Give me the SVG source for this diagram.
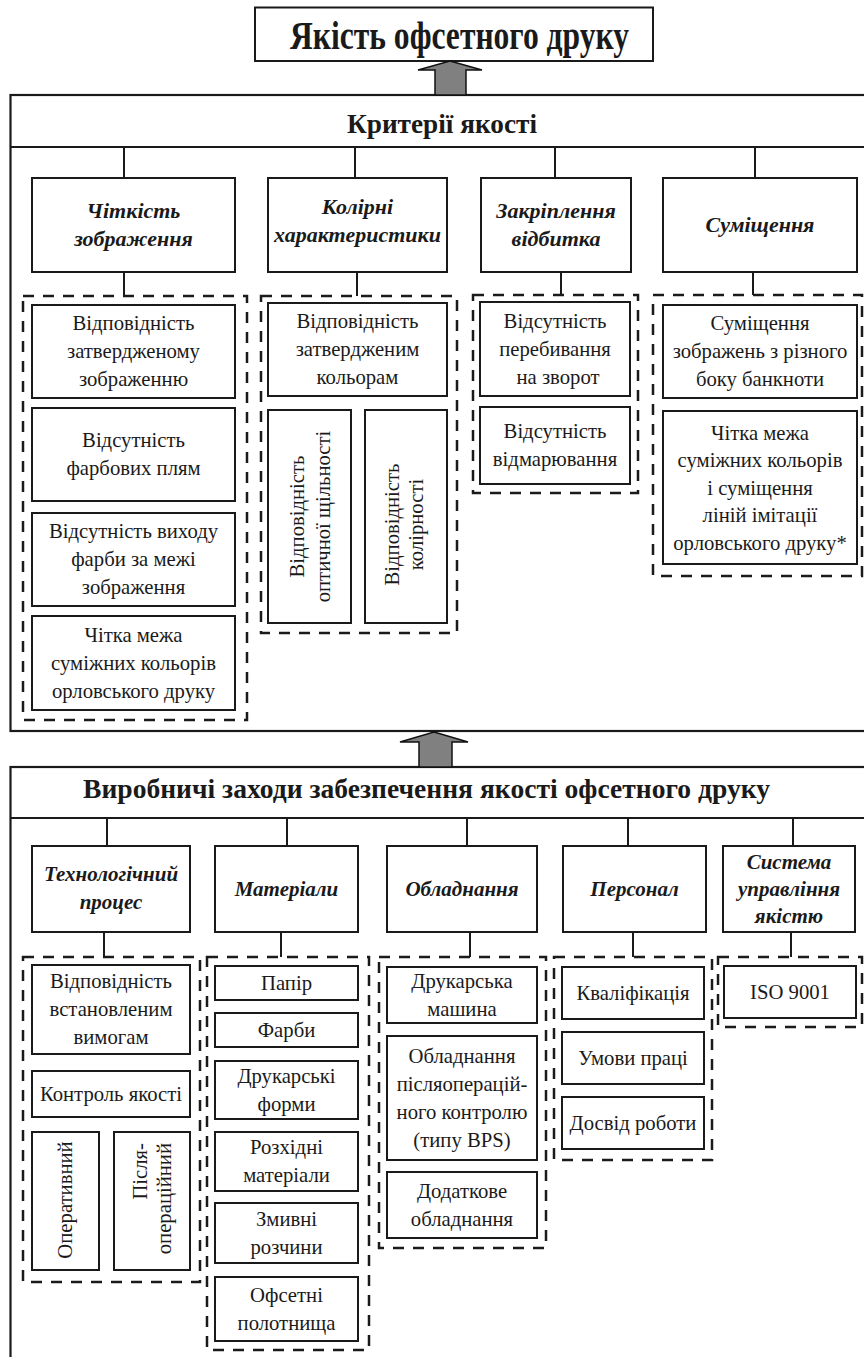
<svg xmlns="http://www.w3.org/2000/svg" width="864" height="1357" viewBox="0 0 864 1357">
<style>
.box{fill:#fff;stroke:#1a1a1a;stroke-width:2}
.frame{fill:#fff;stroke:#1a1a1a;stroke-width:2.2}
.grp{fill:none;stroke:#1a1a1a;stroke-width:2.5;stroke-dasharray:11 9}
.conn{stroke:#1a1a1a;stroke-width:2;fill:none}
.arrow{fill:#808080;stroke:#111;stroke-width:1.5}
.t{font-family:"Liberation Serif","Times New Roman",serif;font-size:20.7px;fill:#1a1a1a;text-anchor:middle}
.h{font-weight:bold;font-style:italic;font-size:22px}
.h2{font-weight:bold;font-style:italic;font-size:21px}
.b{font-weight:bold}
.s27{font-size:27px}
.s40{font-size:40px}
</style>
<rect width="864" height="1357" fill="#fff"/>

<g id="frame-criteria">
<rect class="frame" x="10.5" y="95" width="880" height="636"/>
<line class="conn" x1="10.5" y1="147" x2="864" y2="147"/>
<text class="t b s27" x="442" y="133" textLength="190" lengthAdjust="spacingAndGlyphs">Критерії якості</text>
</g>

<g id="frame-measures">
<rect class="frame" x="10.5" y="767" width="880" height="620"/>
<line class="conn" x1="10.5" y1="818" x2="864" y2="818"/>
<text class="t b s27" x="426.5" y="798" textLength="687" lengthAdjust="spacingAndGlyphs">Виробничі заходи забезпечення якості офсетного друку</text>
</g>

<g id="title">
<rect class="box" x="255" y="7.5" width="398" height="53.5"/>
<text class="t b s40" x="459.5" y="49" textLength="339" lengthAdjust="spacingAndGlyphs">Якість офсетного друку</text>
</g>

<g id="connectors">
<polygon class="arrow" points="450,61 482,70 466,70 466,95 435,95 435,70 418,70"/>
<polygon class="arrow" points="434,732 468,742 452,742 452,767 419,767 419,742 400,742"/>
<line class="conn" x1="124" y1="147" x2="124" y2="178"/>
<line class="conn" x1="355" y1="147" x2="355" y2="178"/>
<line class="conn" x1="555" y1="147" x2="555" y2="178"/>
<line class="conn" x1="755" y1="147" x2="755" y2="178"/>
<line class="conn" x1="124" y1="272" x2="124" y2="296"/>
<line class="conn" x1="357" y1="272" x2="357" y2="296"/>
<line class="conn" x1="561" y1="272" x2="561" y2="295"/>
<line class="conn" x1="753" y1="272" x2="753" y2="295"/>
<line class="conn" x1="107" y1="818" x2="107" y2="846"/>
<line class="conn" x1="287" y1="818" x2="287" y2="846"/>
<line class="conn" x1="467" y1="818" x2="467" y2="846"/>
<line class="conn" x1="628" y1="818" x2="628" y2="846"/>
<line class="conn" x1="793" y1="818" x2="793" y2="846"/>
<line class="conn" x1="104" y1="932" x2="104" y2="957"/>
<line class="conn" x1="281" y1="932" x2="281" y2="957"/>
<line class="conn" x1="470" y1="932" x2="470" y2="957"/>
<line class="conn" x1="633" y1="932" x2="633" y2="957"/>
<line class="conn" x1="791" y1="932" x2="791" y2="957"/>
</g>

<!-- Row 1 categories -->
<g id="cat-sharpness">
<rect class="box" x="32" y="178" width="203" height="94"/>
<text class="t h"><tspan x="133.5" y="217.5">Чіткість</tspan><tspan x="133.5" y="245.5">зображення</tspan></text>
</g>
<g id="cat-color">
<rect class="box" x="268" y="178" width="179" height="94"/>
<text class="t h"><tspan x="357.5" y="214">Колірні</tspan><tspan x="357.5" y="242">характеристики</tspan></text>
</g>
<g id="cat-fixing">
<rect class="box" x="481" y="178" width="150" height="94"/>
<text class="t h"><tspan x="556" y="218">Закріплення</tspan><tspan x="556" y="246">відбитка</tspan></text>
</g>
<g id="cat-register">
<rect class="box" x="663" y="178" width="194" height="94"/>
<text class="t h" x="760" y="232">Суміщення</text>
</g>

<!-- Group 1 -->
<g id="grp-sharpness">
<rect class="grp" x="23" y="296" width="224" height="424"/>
<rect class="box" x="32" y="305" width="203" height="93"/>
<text class="t"><tspan x="133.5" y="330">Відповідність</tspan><tspan x="133.5" y="358">затвердженому</tspan><tspan x="133.5" y="386">зображенню</tspan></text>
<rect class="box" x="32" y="408" width="203" height="93"/>
<text class="t"><tspan x="133.5" y="447">Відсутність</tspan><tspan x="133.5" y="475">фарбових плям</tspan></text>
<rect class="box" x="32" y="513" width="203" height="93"/>
<text class="t"><tspan x="133.5" y="538">Відсутність виходу</tspan><tspan x="133.5" y="566">фарби за межі</tspan><tspan x="133.5" y="594">зображення</tspan></text>
<rect class="box" x="32" y="616" width="203" height="94"/>
<text class="t"><tspan x="133.5" y="641.5">Чітка межа</tspan><tspan x="133.5" y="669.5">суміжних кольорів</tspan><tspan x="133.5" y="697.5">орловського друку</tspan></text>
</g>

<!-- Group 2 -->
<g id="grp-color">
<rect class="grp" x="261" y="296" width="196" height="337"/>
<rect class="box" x="268" y="303" width="179" height="93"/>
<text class="t"><tspan x="357.5" y="328">Відповідність</tspan><tspan x="357.5" y="356">затвердженим</tspan><tspan x="357.5" y="384">кольорам</tspan></text>
<rect class="box" x="268" y="410" width="83" height="213"/>
<text class="t" transform="translate(309.5,516.5) rotate(-90)"><tspan x="0" y="-5.5">Відповідність</tspan><tspan x="0" y="20.5">оптичної щільності</tspan></text>
<rect class="box" x="365" y="410" width="82" height="213"/>
<text class="t" transform="translate(406,516.5) rotate(-90)"><tspan x="-8" y="-7">Відповідність</tspan><tspan x="-8" y="17">колірності</tspan></text>
</g>

<!-- Group 3 -->
<g id="grp-fixing">
<rect class="grp" x="473" y="295" width="165" height="198"/>
<rect class="box" x="480" y="302" width="150" height="94"/>
<text class="t"><tspan x="555" y="327.5">Відсутність</tspan><tspan x="555" y="355.5">перебивання</tspan><tspan x="558" y="383.5">на зворот</tspan></text>
<rect class="box" x="480" y="407" width="150" height="77"/>
<text class="t"><tspan x="555" y="438">Відсутність</tspan><tspan x="555" y="466">відмарювання</tspan></text>
</g>

<!-- Group 4 -->
<g id="grp-register">
<rect class="grp" x="653" y="295" width="209" height="281"/>
<rect class="box" x="663" y="305" width="194" height="93"/>
<text class="t"><tspan x="760" y="330">Суміщення</tspan><tspan x="760" y="358">зображень з різного</tspan><tspan x="760" y="386">боку банкноти</tspan></text>
<rect class="box" x="663" y="411" width="194" height="153"/>
<text class="t"><tspan x="760" y="439.5">Чітка межа</tspan><tspan x="760" y="467">суміжних кольорів</tspan><tspan x="760" y="494.5">і суміщення</tspan><tspan x="760" y="522">ліній імітації</tspan><tspan x="760" y="549.5">орловського друку*</tspan></text>
</g>

<!-- Row 2 categories -->
<g id="cat-process">
<rect class="box" x="32" y="846" width="158" height="86"/>
<text class="t h2"><tspan x="111" y="881">Технологічний</tspan><tspan x="111" y="909">процес</tspan></text>
</g>
<g id="cat-materials">
<rect class="box" x="215" y="846" width="143" height="86"/>
<text class="t h2" x="286.5" y="896">Матеріали</text>
</g>
<g id="cat-equipment">
<rect class="box" x="387" y="846" width="150" height="86"/>
<text class="t h2" x="462" y="896">Обладнання</text>
</g>
<g id="cat-personnel">
<rect class="box" x="563" y="846" width="143" height="86"/>
<text class="t h2" x="634.5" y="896">Персонал</text>
</g>
<g id="cat-qms">
<rect class="box" x="723" y="846" width="132" height="86"/>
<text class="t h2"><tspan x="789" y="869">Система</tspan><tspan x="789" y="896">управління</tspan><tspan x="789" y="923">якістю</tspan></text>
</g>

<!-- Group T -->
<g id="grp-process">
<rect class="grp" x="23" y="957" width="177" height="325"/>
<rect class="box" x="32" y="965" width="158" height="89"/>
<text class="t"><tspan x="111" y="988">Відповідність</tspan><tspan x="111" y="1016">встановленим</tspan><tspan x="111" y="1044">вимогам</tspan></text>
<rect class="box" x="32" y="1071" width="158" height="46"/>
<text class="t" x="111" y="1100.5">Контроль якості</text>
<rect class="box" x="32" y="1132" width="67" height="138"/>
<text class="t" transform="translate(65.5,1201) rotate(-90)" x="1" y="6.5">Оперативний</text>
<rect class="box" x="114" y="1132" width="76" height="138"/>
<text class="t" transform="translate(152,1201) rotate(-90)" style="text-anchor:end"><tspan x="58" y="-5">Після-</tspan><tspan x="58" y="19">операційний</tspan></text>
</g>

<!-- Group M -->
<g id="grp-materials">
<rect class="grp" x="207" y="957" width="162" height="393"/>
<rect class="box" x="215" y="966" width="143" height="34"/>
<text class="t" x="286.5" y="989.5">Папір</text>
<rect class="box" x="215" y="1013" width="143" height="34"/>
<text class="t" x="286.5" y="1036.5">Фарби</text>
<rect class="box" x="215" y="1061" width="143" height="58"/>
<text class="t"><tspan x="286.5" y="1082.5">Друкарські</tspan><tspan x="286.5" y="1110.5">форми</tspan></text>
<rect class="box" x="215" y="1132" width="143" height="59"/>
<text class="t"><tspan x="286.5" y="1154">Розхідні</tspan><tspan x="286.5" y="1182">матеріали</tspan></text>
<rect class="box" x="215" y="1203" width="143" height="60"/>
<text class="t"><tspan x="286.5" y="1225.5">Змивні</tspan><tspan x="286.5" y="1253.5">розчини</tspan></text>
<rect class="box" x="215" y="1277" width="143" height="64"/>
<text class="t"><tspan x="286.5" y="1301.5">Офсетні</tspan><tspan x="286.5" y="1329.5">полотнища</tspan></text>
</g>

<!-- Group O -->
<g id="grp-equipment">
<rect class="grp" x="379" y="957" width="167" height="291"/>
<rect class="box" x="387" y="967" width="150" height="56"/>
<text class="t"><tspan x="462" y="987.5">Друкарська</tspan><tspan x="462" y="1015.5">машина</tspan></text>
<rect class="box" x="387" y="1036" width="150" height="124"/>
<text class="t"><tspan x="462" y="1062.5">Обладнання</tspan><tspan x="462" y="1090.5">післяоперацій-</tspan><tspan x="462" y="1118.5">ного контролю</tspan><tspan x="462" y="1146.5">(типу BPS)</tspan></text>
<rect class="box" x="387" y="1172" width="150" height="66"/>
<text class="t"><tspan x="462" y="1197.5">Додаткове</tspan><tspan x="462" y="1225.5">обладнання</tspan></text>
</g>

<!-- Group P -->
<g id="grp-personnel">
<rect class="grp" x="554" y="957" width="158" height="203"/>
<rect class="box" x="562" y="967" width="142" height="52"/>
<text class="t" x="633" y="999.5">Кваліфікація</text>
<rect class="box" x="562" y="1032" width="142" height="52"/>
<text class="t" x="633" y="1064.5">Умови праці</text>
<rect class="box" x="562" y="1097" width="142" height="52"/>
<text class="t" x="633" y="1129.5">Досвід роботи</text>
</g>

<!-- Group S -->
<g id="grp-qms">
<rect class="grp" x="718" y="957" width="144" height="70"/>
<rect class="box" x="724" y="966" width="132" height="52"/>
<text class="t" x="790" y="998.5">ISO 9001</text>
</g>
</svg>
